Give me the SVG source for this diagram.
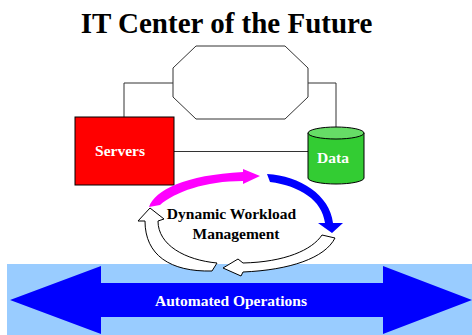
<svg xmlns="http://www.w3.org/2000/svg" width="472" height="335" viewBox="0 0 472 335">
  <style>
    .lbl { font-family: "Liberation Serif", "Times New Roman", serif; font-weight: bold; text-anchor: middle; }
    .wht { fill: #FFFFFF; font-size: 15.5px; }
    .blk { fill: #000000; font-size: 15.5px; }
    .wire { fill: none; stroke: #333333; stroke-width: 1; }
    .edge { stroke: #000000; stroke-width: 1; }
  </style>
  <rect width="472" height="335" fill="#FFFFFF"/>

  <!-- heading -->
  <g id="title">
    <text class="lbl" x="226.5" y="33" font-size="29">IT Center of the Future</text>
  </g>

  <!-- wiring between nodes -->
  <g id="connectors">
    <polyline class="wire" points="173,83 124,83 124,117"/>
    <polyline class="wire" points="308,83 336,83 336,127"/>
    <line class="wire" x1="174" y1="151.5" x2="308" y2="151.5"/>
  </g>

  <!-- network hub -->
  <g id="network">
    <polygon points="196,46 285,46 308,68 308,97 285,119 196,119 173,97 173,68" fill="#FFFFFF" stroke="#333333" stroke-width="1"/>
  </g>

  <g id="servers">
    <rect x="75" y="117" width="99" height="68" fill="#FF0000" class="edge"/>
    <text class="lbl wht" x="120" y="156">Servers</text>
  </g>

  <g id="data">
    <path d="M308,133 L308,178 A28,6 0 0 0 364,178 L364,133 Z" fill="#33CC33" class="edge"/>
    <ellipse cx="336" cy="133" rx="28" ry="6" fill="#66DD66" class="edge"/>
    <text class="lbl wht" x="333" y="163">Data</text>
  </g>

  <!-- operations band -->
  <g id="operations">
    <rect x="7" y="264" width="465" height="71" fill="#99CCFF"/>
    <polygon points="10,300 101,266 101,283 383,283 383,266 472,300 383,334 383,317 101,317 101,334" fill="#0000FF"/>
    <text class="lbl wht" x="231" y="306">Automated Operations</text>
  </g>

  <!-- workload cycle of four curved arrows -->
  <g id="workload">
    <path d="M149,207 C155,190 185,175 243,172 L243,169 L260,176 L243,184 L243,181 C205,181 175,192 160,205 Z" fill="#FF00FF"/>
    <path d="M267,174 C300,176 330,195 333,223 L343,223 L332,233 L318,223 L325,223 C322,200 300,186 270,182 Z" fill="#0000FF"/>
    <path d="M335,238 C325,258 290,270 243,272 L241,276 L223,268 L238,259 L243,263 C285,262 312,250 322,235 Z" fill="#FFFFFF" class="edge"/>
    <path d="M212,271 C170,272 145,255 145,221 L138,221 L150,208 L164,219 L158,221 C158,245 185,260 217,263 Z" fill="#FFFFFF" class="edge"/>
    <text class="lbl blk" x="231.5" y="219">Dynamic Workload</text>
    <text class="lbl blk" x="236" y="239">Management</text>
  </g>
</svg>
